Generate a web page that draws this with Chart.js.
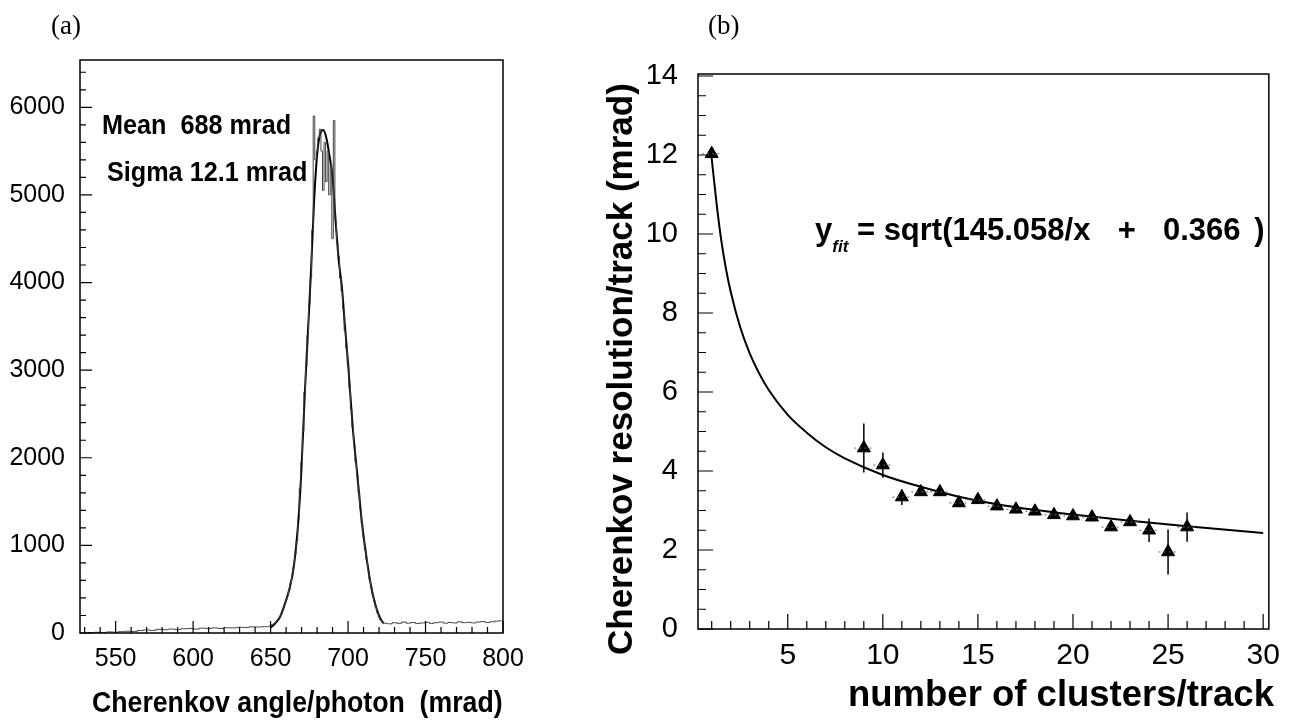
<!DOCTYPE html>
<html>
<head>
<meta charset="utf-8">
<script src="https://cdn.jsdelivr.net/npm/chart.js@4.4.1/dist/chart.umd.min.js"></script>
<style>
  body { margin: 0; background: #fff; width: 1289px; height: 723px; overflow: hidden; position: relative; }
  canvas { position: absolute; top: 0; }
  #angleChart { left: 0; }
  #resChart { left: 560px; }
  .txt { position: absolute; white-space: pre; line-height: 1; color: #000; font-family: 'Liberation Sans', Arial, sans-serif; }
  .serif { font-family: 'Liberation Serif', 'Times New Roman', serif; font-size: 27px; }
  .bold { font-weight: bold; }
</style>
</head>
<body>
<canvas id="angleChart" width="535" height="723"></canvas>
<canvas id="resChart" width="729" height="723"></canvas>

<div class="txt serif" style="left:51px; top:12px;">(a)</div>
<div class="txt serif" style="left:708px; top:12px;">(b)</div>
<div class="txt bold" style="left:102px; top:111px; font-size:28px; transform:scaleX(0.9); transform-origin:left top;">Mean  688 mrad</div>
<div class="txt bold" style="left:107px; top:158px; font-size:28px; transform:scaleX(0.9); transform-origin:left top;">Sigma 12.1 mrad</div>
<div class="txt bold" style="left:92px; top:688px; font-size:29px; transform:scaleX(0.92); transform-origin:left top;">Cherenkov angle/photon  (mrad)</div>
<div class="txt bold" style="left:815px; top:214px; font-size:31px;">y<span style="font-size:17px; font-style:italic; position:relative; top:12px;">fit</span> = sqrt(145.058/x<span style="word-spacing:5px;">  +  0.366 )</span></div>
<div class="txt bold" style="left:848px; top:676px; font-size:36.5px;">number of clusters/track</div>
<div class="txt bold" style="left:602px; top:655px; font-size:35px; transform:rotate(-90deg); transform-origin:left top;">Cherenkov resolution/track (mrad)</div>

<script>
// (a) Cherenkov angle per photon: histogram + gaussian fit
const histAngle = [530, 534, 538, 542, 546, 550, 554, 558, 562, 566, 570, 574, 578, 582, 586, 590, 594, 598,
  602, 606, 610, 614, 618, 622, 626, 630, 634, 638, 642, 646,
  648, 649, 650, 651, 652, 653, 654, 655, 656, 657, 658, 659, 660, 661, 662, 663, 664, 665, 666, 667,
  668, 669, 670, 671, 672, 673, 674, 675, 676, 677, 678, 679, 680, 681, 682, 683, 684, 685, 686, 687,
  688, 689, 690, 691, 692, 693, 694, 695, 696, 697, 698, 699, 700, 701, 702, 703, 704, 705, 706, 707,
  708, 709, 710, 711, 712, 713, 714, 715, 716, 717, 718, 719, 720, 721, 722, 723, 724,
  727, 730, 733, 736, 739, 742, 745, 748, 751, 754, 757, 760, 763, 766, 769, 772, 775, 778, 781, 784,
  787, 790, 793, 796, 799];
const histCount = [0, 5, 8, 6, 12, 10, 15, 20, 18, 28, 35, 30, 42, 38, 45, 40, 48, 52,
  45, 55, 50, 58, 52, 60, 58, 65, 62, 70, 68, 72,
  72, 75, 85, 95, 105, 120, 140, 160, 185, 220, 270, 320, 380, 430, 490, 570, 660, 760, 900, 1050,
  1300, 1650, 1950, 2300, 2750, 3050, 3400, 3750, 4050, 4600, 5900, 5400, 5500, 5650, 5750, 5500, 5050, 5600, 5150, 5500,
  5000, 5350, 4500, 5850, 4700, 4450, 4300, 4050, 3900, 3700, 3450, 3250, 3050, 2800, 2550, 2350, 2150, 1950, 1800, 1600,
  1420, 1250, 1100, 950, 840, 720, 610, 520, 440, 360, 290, 230, 180, 150, 125, 115, 110,
  105, 118, 110, 125, 112, 120, 108, 115, 122, 110, 118, 125, 112, 120, 115, 128, 118, 122, 115, 125,
  130, 120, 128, 135, 140];
const gaussAngle = [650, 653, 656, 659, 662, 665, 668, 670, 672, 674, 676, 678, 680, 682, 684, 686, 688,
  690, 692, 694, 696, 698, 700, 703, 706, 709, 712, 715, 718, 721, 723];
const gaussCount = [60, 110, 180, 320, 490, 760, 1300, 1900, 2700, 3400, 4100, 4900, 5450, 5700, 5740, 5650, 5450,
  5200, 4700, 4250, 3950, 3500, 3080, 2350, 1800, 1250, 850, 520, 300, 160, 110];
const angleTicks = [550, 600, 650, 700, 750, 800];
const countTicks = [0, 1000, 2000, 3000, 4000, 5000, 6000];

// (b) resolution per track vs number of clusters
const clusters = [1, 9, 10, 11, 12, 13, 14, 15, 16, 17, 18, 19, 20, 21, 22, 23, 24, 25, 26];
const resolution = [12.03, 4.58, 4.15, 3.34, 3.47, 3.47, 3.19, 3.27, 3.11, 3.03, 2.98, 2.89, 2.86, 2.83, 2.58, 2.71, 2.5, 1.95, 2.58];
const resError = [0.1, 0.62, 0.32, 0.2, 0.1, 0.1, 0.1, 0.1, 0.1, 0.08, 0.08, 0.1, 0.1, 0.1, 0.1, 0.1, 0.3, 0.57, 0.37];
const fitClusters = [0.97, 1.25, 1.5, 1.75, 2, 2.5, 3, 3.5, 4, 5, 6, 7, 8, 10, 12, 14, 17, 20, 23, 26, 30];
const fitResolution = [12.05, 10.8, 9.85, 9.12, 8.54, 7.64, 6.98, 6.47, 6.05, 5.42, 4.97, 4.6, 4.32, 3.9, 3.6, 3.35, 3.08, 2.9, 2.74, 2.6, 2.43];
const clusterTicks = [5, 10, 15, 20, 25, 30];
const resTicks = [0, 2, 4, 6, 8, 10, 12, 14];

const pts = (xs, ys) => xs.map((v, i) => ({x: v, y: ys[i]}));
const range = (a, b, s) => { const out = []; for (let v = a; v <= b + 1e-9; v += s) out.push(+v.toFixed(4)); return out; };

// box frame + inward ROOT-style ticks on left and bottom axes
const frameTicks = {
  id: 'frameTicks',
  afterDatasetsDraw(chart, args, o) {
    const {ctx, chartArea: a, scales: {x, y}} = chart;
    ctx.save();
    ctx.strokeStyle = '#000';
    ctx.lineWidth = 1.5;
    ctx.strokeRect(a.left, a.top, a.right - a.left, a.bottom - a.top);
    ctx.lineWidth = 1.2;
    ctx.beginPath();
    o.xMinor.forEach(v => {
      const px = x.getPixelForValue(v);
      const len = o.xMajor.includes(v) ? o.major : o.minor;
      ctx.moveTo(px, a.bottom); ctx.lineTo(px, a.bottom - len);
    });
    o.yMinor.forEach(v => {
      const py = y.getPixelForValue(v);
      const len = o.yMajor.includes(v) ? o.major : o.minor;
      ctx.moveTo(a.left, py); ctx.lineTo(a.left + len, py);
    });
    ctx.stroke();
    ctx.restore();
  }
};

// vertical error bars and dotted x-width marks
const errorBars = {
  id: 'errorBars',
  afterDatasetsDraw(chart) {
    const {ctx, scales: {x, y}} = chart;
    ctx.save();
    clusters.forEach((c, i) => {
      const px = x.getPixelForValue(c);
      ctx.strokeStyle = '#000';
      ctx.lineWidth = 1.5;
      ctx.setLineDash([]);
      ctx.beginPath();
      ctx.moveTo(px, y.getPixelForValue(resolution[i] + resError[i]));
      ctx.lineTo(px, y.getPixelForValue(resolution[i] - resError[i]));
      ctx.stroke();
      ctx.strokeStyle = '#666';
      ctx.lineWidth = 1;
      ctx.setLineDash([2, 3]);
      const py = y.getPixelForValue(resolution[i]);
      ctx.beginPath();
      ctx.moveTo(x.getPixelForValue(c - 0.5), py);
      ctx.lineTo(x.getPixelForValue(c + 0.5), py);
      ctx.stroke();
    });
    ctx.restore();
  }
};

const tickFont = (size) => ({family: "'Liberation Sans', Arial, sans-serif", size: size});
const fixTicks = (list) => (scale) => { scale.ticks = list.map(v => ({value: v})); };
const plain = (v) => String(v);

new Chart(document.getElementById('angleChart'), {
  type: 'scatter',
  data: {
    datasets: [{
      data: pts(histAngle, histCount),
      showLine: true,
      stepped: 'middle',
      borderColor: '#444',
      borderWidth: 1,
      pointRadius: 0
    }, {
      data: pts(gaussAngle, gaussCount),
      showLine: true,
      cubicInterpolationMode: 'monotone',
      borderColor: '#000',
      borderWidth: 2,
      pointRadius: 0
    }]
  },
  options: {
    responsive: false,
    animation: false,
    layout: {padding: {left: 0, top: 60, right: 32, bottom: 0}},
    scales: {
      x: {
        type: 'linear', min: 527, max: 800,
        afterBuildTicks: fixTicks(angleTicks),
        afterFit: (s) => { s.height = 90; },
        grid: {display: false, drawTicks: false},
        border: {display: false},
        ticks: {color: '#000', font: tickFont(25), padding: 11, maxRotation: 0, callback: plain}
      },
      y: {
        type: 'linear', min: 0, max: 6540,
        afterBuildTicks: fixTicks(countTicks),
        afterFit: (s) => { s.width = 80; },
        grid: {display: false, drawTicks: false},
        border: {display: false},
        ticks: {color: '#000', font: tickFont(25), padding: 15, callback: plain}
      }
    },
    plugins: {
      legend: {display: false},
      tooltip: {enabled: false},
      frameTicks: {
        xMajor: angleTicks, xMinor: range(530, 800, 10),
        yMajor: countTicks, yMinor: range(0, 6400, 200),
        major: 12, minor: 6
      }
    }
  },
  plugins: [frameTicks]
});

new Chart(document.getElementById('resChart'), {
  type: 'scatter',
  data: {
    datasets: [{
      data: pts(fitClusters, fitResolution),
      showLine: true,
      cubicInterpolationMode: 'monotone',
      borderColor: '#000',
      borderWidth: 2,
      pointRadius: 0
    }, {
      data: pts(clusters, resolution),
      pointStyle: 'triangle',
      pointRadius: 7.5,
      backgroundColor: '#000',
      borderColor: '#000'
    }]
  },
  options: {
    responsive: false,
    animation: false,
    layout: {padding: {left: 0, top: 74, right: 17, bottom: 0}},
    scales: {
      x: {
        type: 'linear', min: 0.28, max: 30.3,
        afterBuildTicks: fixTicks(clusterTicks),
        afterFit: (s) => { s.height = 94; },
        grid: {display: false, drawTicks: false},
        border: {display: false},
        ticks: {color: '#000', font: tickFont(30), padding: 9, maxRotation: 0, callback: plain}
      },
      y: {
        type: 'linear', min: 0, max: 14.05,
        afterBuildTicks: fixTicks(resTicks),
        afterFit: (s) => { s.width = 138; },
        grid: {display: false, drawTicks: false},
        border: {display: false},
        ticks: {color: '#000', font: tickFont(29), padding: 20, callback: plain}
      }
    },
    plugins: {
      legend: {display: false},
      tooltip: {enabled: false},
      frameTicks: {
        xMajor: clusterTicks, xMinor: range(1, 30, 1),
        yMajor: resTicks, yMinor: range(0, 14, 0.5),
        major: 15, minor: 8
      }
    }
  },
  plugins: [frameTicks, errorBars]
});
</script>
</body>
</html>
